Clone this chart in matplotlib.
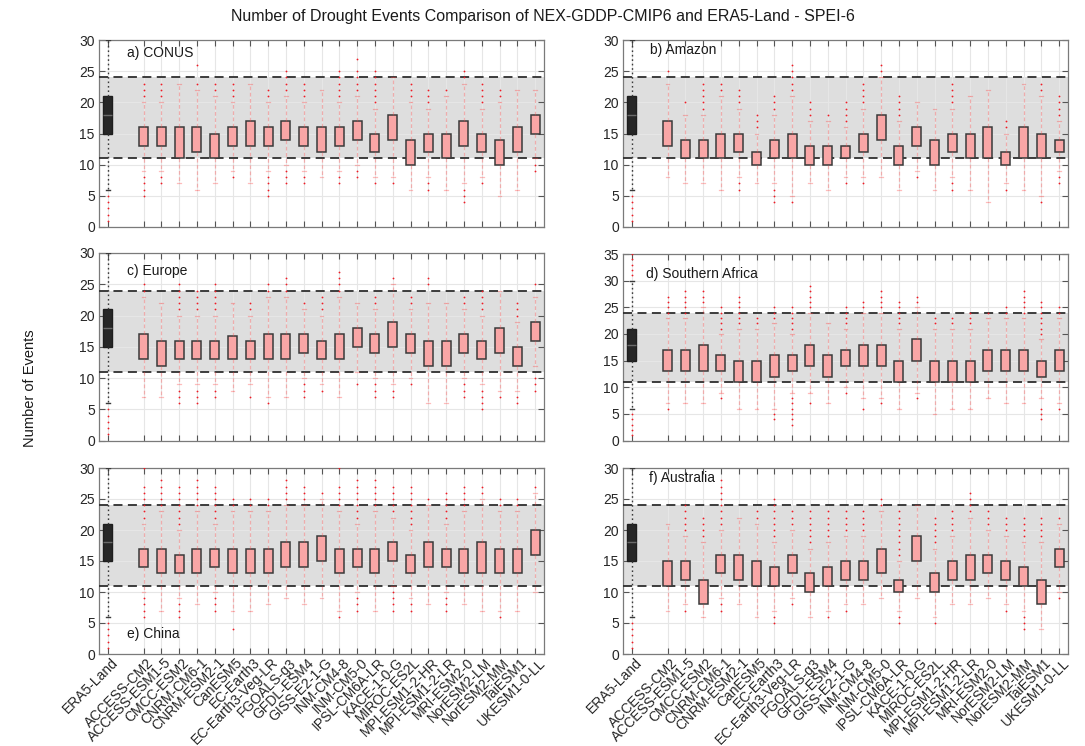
import matplotlib
matplotlib.use("Agg")
import matplotlib.pyplot as plt
from matplotlib.transforms import ScaledTranslation

plt.rcParams['font.family'] = ['Liberation Sans', 'DejaVu Sans']

TITLE = "Number of Drought Events Comparison of NEX-GDDP-CMIP6 and ERA5-Land - SPEI-6"
YLABEL = "Number of Events"

era5_label = "ERA5-Land"
models = ["ACCESS-CM2", "ACCESS-ESM1-5", "CMCC-ESM2", "CNRM-CM6-1", "CNRM-ESM2-1",
          "CanESM5", "EC-Earth3", "EC-Earth3-Veg-LR", "FGOALS-g3", "GFDL-ESM4",
          "GISS-E2-1-G", "INM-CM4-8", "INM-CM5-0", "IPSL-CM6A-LR", "KACE-1-0-G",
          "MIROC-ES2L", "MPI-ESM1-2-HR", "MPI-ESM1-2-LR", "MRI-ESM2-0", "NorESM2-LM",
          "NorESM2-MM", "TaiESM1", "UKESM1-0-LL"]

# ERA5-Land reference distribution (same in every region panel)
era5_q1, era5_med, era5_q3 = 15, 18, 21
era5_lo, era5_hi = 6, 30
era5_out = [31, 32, 33, 34, 35, 5, 4, 3, 2, 1]

# range of the ERA5-Land distribution highlighted as a band
band_lo, band_hi = 11, 24

# ---- a) CONUS
conus_q1 = [13, 13, 11, 12, 11, 13, 13, 13, 14, 13, 12, 13, 14, 12, 14, 10, 12, 11, 13, 12, 10, 12, 15]
conus_q3 = [16, 16, 16, 16, 15, 16, 17, 16, 17, 16, 16, 16, 17, 15, 18, 14, 15, 15, 17, 15, 14, 16, 18]
conus_lo = [9, 9, 7, 6, 7, 9, 7, 9, 10, 9, 8, 9, 10, 8, 8, 6, 8, 6, 7, 8, 5, 6, 11]
conus_hi = [20, 20, 23, 22, 21, 20, 23, 20, 21, 20, 22, 20, 21, 19, 24, 20, 19, 21, 23, 19, 20, 22, 22]
conus_out = [[21, 22, 23, 8, 7, 6, 5], [21, 22, 23, 8, 7], [], [23, 26], [22, 23],
             [21, 22, 23, 8], [], [21, 22, 8, 7, 6, 5], [22, 23, 24, 25, 9, 8, 7],
             [21, 22, 23, 8, 7], [], [21, 22, 23, 24, 25, 8, 7], [22, 23, 24, 25, 27, 9, 8],
             [20, 21, 22, 23, 24, 25, 7], [7], [21, 22, 23], [20, 21, 22, 7, 6], [22],
             [24, 25, 6, 5, 4], [20, 21, 22, 23, 7], [21, 22], [], [10, 9]]

# ---- b) Amazon
amazon_q1 = [13, 11, 11, 11, 12, 10, 11, 11, 10, 10, 11, 12, 14, 10, 13, 10, 12, 11, 11, 10, 11, 11, 12]
amazon_q3 = [17, 14, 14, 15, 15, 12, 14, 15, 13, 13, 13, 15, 18, 13, 16, 14, 15, 15, 16, 12, 16, 15, 14]
amazon_lo = [8, 7, 7, 6, 8, 7, 7, 5, 7, 6, 8, 8, 8, 6, 9, 6, 8, 6, 4, 7, 6, 5, 9]
amazon_hi = [23, 18, 18, 21, 19, 15, 18, 21, 17, 17, 16, 19, 24, 17, 20, 19, 19, 21, 22, 15, 23, 21, 17]
amazon_out = [[25], [20], [19, 20, 21, 22, 23], [22, 23], [20, 21, 22, 7, 6], [16, 17, 18],
              [19, 20, 21, 6, 5, 4], [22, 23, 24, 25, 26, 4], [18, 19, 20], [18],
              [17, 18, 19, 20, 7], [20, 21, 22, 23, 7], [25, 26], [18, 19, 20, 21], [8], [],
              [20, 21, 22, 23, 7, 6], [], [], [16, 17, 6], [], [22, 23, 4],
              [18, 19, 20, 21, 8, 7]]

# ---- c) Europe
europe_q1 = [13, 12, 13, 13, 13, 13, 13, 13, 13, 14, 13, 13, 15, 14, 15, 14, 12, 12, 14, 13, 14, 12, 16]
europe_q3 = [17, 16, 16, 16, 16, 16.8, 16, 17, 17, 17, 16, 17, 18, 17, 19, 17, 16, 16, 17, 16, 18, 15, 19]
europe_lo = [7, 7, 9, 9, 9, 8, 9, 7, 7, 10, 9, 7, 11, 10, 9, 10, 6, 6, 10, 9, 8, 8, 12]
europe_hi = [23, 22, 20, 20, 20, 22, 20, 23, 23, 21, 20, 23, 22, 21, 25, 21, 22, 22, 21, 20, 24, 19, 23]
europe_out = [[24, 25], [], [21, 22, 23, 24, 25, 8, 7, 6], [21, 22, 23, 24, 8, 7, 6],
              [21, 22, 23, 24, 25, 8, 7], [], [21, 22, 7], [24, 25, 6], [24, 25, 26],
              [22, 9, 8, 7], [21, 22, 23, 8], [24, 25, 26, 27], [9], [22, 23, 9, 8, 7],
              [26, 8, 7], [22, 23, 9], [25, 26], [], [22, 23, 9, 8, 7],
              [21, 22, 23, 24, 8, 7, 6, 5], [7], [20, 21, 22, 7, 6], [25, 10, 9, 8]]

# ---- d) Southern Africa
safrica_q1 = [13, 13, 13, 13, 11, 11, 12, 13, 14, 12, 14, 14, 14, 11, 15, 11, 11, 11, 13, 13, 13, 12, 13]
safrica_q3 = [17, 17, 18, 16, 15, 15, 16, 16, 18, 16, 17, 18, 18, 15, 19, 15, 15, 15, 17, 17, 17, 15, 17]
safrica_lo = [7, 7, 7, 9, 6, 6, 6, 9, 9, 7, 10, 8, 8, 6, 9, 5, 6, 6, 8, 7, 7, 8, 7]
safrica_hi = [23, 23, 25, 20, 21, 21, 22, 20, 24, 22, 21, 24, 24, 21, 25, 21, 21, 21, 23, 23, 23, 19, 23]
safrica_out = [[24, 25, 26, 27, 6], [24, 25, 26, 27, 28], [26, 27, 28], [21, 22, 23, 24, 25, 8],
               [22, 23, 24, 25, 26, 27], [22, 23], [23, 24, 25, 5, 4],
               [21, 22, 23, 24, 25, 8, 7, 6, 5, 4, 3], [25, 26, 27, 28, 29, 7], [],
               [22, 23, 24, 25, 9], [25, 26, 6], [25, 26, 27, 28, 7], [22, 23, 24, 25, 26],
               [26, 27, 8], [22, 23], [22, 23], [22, 23, 24], [24], [24, 25],
               [24, 25, 26, 27, 28], [20, 21, 22, 23, 24, 25, 26, 6, 5, 4], [24, 25, 6]]

# ---- e) China
china_q1 = [14, 13, 13, 13, 14, 13, 13, 13, 14, 14, 15, 13, 14, 13, 15, 13, 14, 14, 13, 13, 13, 13, 16]
china_q3 = [17, 17, 16, 17, 17, 17, 17, 17, 18, 18, 19, 17, 17, 17, 18, 16, 18, 17, 17, 18, 17, 17, 20]
china_lo = [10, 7, 9, 8, 10, 7, 7, 8, 9, 8, 9, 7, 10, 7, 11, 9, 8, 10, 8, 7, 7, 7, 10]
china_hi = [21, 23, 20, 23, 21, 23, 23, 23, 24, 24, 25, 23, 21, 23, 22, 20, 24, 21, 23, 25, 23, 23, 26]
china_out = [[22, 23, 24, 25, 26, 27, 30, 9, 8, 7, 6], [24, 25, 26, 27, 28],
             [21, 22, 23, 24, 25, 26, 27, 8, 7, 6], [24, 25, 26, 27, 28],
             [22, 23, 24, 25, 26, 27, 9, 8, 7], [24, 25, 4], [24, 25], [24, 25],
             [25, 26, 27, 28], [25, 26, 27], [26], [24, 25, 26, 27, 30, 6],
             [22, 23, 24, 25, 26, 27, 28, 9, 8, 7], [24, 25, 26, 27, 28],
             [23, 24, 25, 26, 27, 10, 9, 8, 7], [21, 22, 23, 24, 25, 26, 27, 8, 7], [25],
             [22, 23, 24, 25, 26, 9, 8, 7], [24, 25, 26, 27], [26, 27], [24, 25, 6],
             [24, 25], [27]]

# ---- f) Australia
austr_q1 = [11, 12, 8, 13, 12, 11, 11, 13, 10, 11, 12, 12, 13, 10, 15, 10, 12, 12, 13, 12, 11, 8, 14]
austr_q3 = [15, 15, 12, 16, 16, 15, 14, 16, 13, 14, 15, 15, 17, 12, 19, 13, 15, 16, 16, 15, 14, 12, 17]
austr_lo = [7, 8, 6, 9, 8, 6, 7, 9, 6, 7, 8, 8, 9, 7, 9, 6, 8, 8, 9, 8, 7, 4, 10]
austr_hi = [21, 19, 18, 20, 22, 21, 18, 20, 17, 18, 19, 19, 23, 15, 24, 17, 19, 22, 20, 19, 18, 18, 21]
austr_out = [[], [20, 21, 22, 23, 24, 7], [19, 20, 21, 22],
             [21, 22, 23, 24, 25, 26, 27, 28, 8, 7], [], [22, 23],
             [19, 20, 21, 22, 23, 24, 25, 6, 5], [21, 22, 23, 8], [18, 19, 20, 21, 22, 23],
             [19, 20, 21, 22, 23, 6], [20, 21, 22, 23, 7], [20, 21, 22, 23], [24, 25],
             [16, 17, 18, 19, 20, 21, 22, 23, 6, 5], [], [18, 19, 20, 21, 22, 5],
             [20, 21, 22, 23], [23, 24, 25, 26], [21, 22, 23], [20, 21, 22, 7],
             [19, 20, 21, 22, 6, 5, 4], [19, 20, 21, 22], [22, 9]]

panels = [
    ("a) CONUS", conus_q1, conus_q3, conus_lo, conus_hi, conus_out, 30),
    ("b) Amazon", amazon_q1, amazon_q3, amazon_lo, amazon_hi, amazon_out, 30),
    ("c) Europe", europe_q1, europe_q3, europe_lo, europe_hi, europe_out, 30),
    ("d) Southern Africa", safrica_q1, safrica_q3, safrica_lo, safrica_hi, safrica_out, 35),
    ("e) China", china_q1, china_q3, china_lo, china_hi, china_out, 30),
    ("f) Australia", austr_q1, austr_q3, austr_lo, austr_hi, austr_out, 30),
]

# layout in figure pixels (left, top, right, bottom)
W, H = 1085, 746
boxes_px = [(99, 40, 544, 227), (623, 40, 1068, 227),
            (99, 253, 544, 440.5), (623, 254, 1068, 440.5),
            (99, 468, 544, 654), (623, 468, 1068, 654)]
label_pos = [(0.064, 0.93), (0.06, 0.945), (0.062, 0.905),
             (0.052, 0.895), (0.064, 0.11), (0.059, 0.945)]

PINK = "#F9A6A6"
EDGE = "#3a3a3a"
SPINE = "#7a7a7a"

fig = plt.figure(figsize=(W / 100, H / 100), dpi=100)
# rotated category labels hang just below and right of their tick
label_shift = ScaledTranslation(0.08, -0.065, fig.dpi_scale_trans)

era5_pos = 1
model_pos = list(range(3, 3 + len(models)))
tick_pos = [era5_pos] + model_pos
tick_names = [era5_label] + models

for i, (name, q1, q3, lo, hi, out, ymax) in enumerate(panels):
    l, t, r, b = boxes_px[i]
    ax = fig.add_axes([l / W, 1 - b / H, (r - l) / W, (b - t) / H])

    ax.axhspan(band_lo, band_hi, color="#dedede", lw=0, zorder=0.2)
    for yv in (band_lo, band_hi):
        ax.axhline(yv, color="#2e2e2e", lw=1.3, ls=(0, (5, 3)), zorder=2.6)

    flier = dict(marker=".", markersize=2.6, markerfacecolor="#ee1c25",
                 markeredgecolor="none", linestyle="none")

    era5_stats = [dict(q1=era5_q1, med=era5_med, q3=era5_q3,
                       whislo=era5_lo, whishi=era5_hi, fliers=era5_out)]
    ax.bxp(era5_stats, positions=[era5_pos], widths=0.5, patch_artist=True,
           boxprops=dict(facecolor="#272727", edgecolor="#1e1e1e", lw=1.0),
           medianprops=dict(color="#6a6a6a", lw=1.0),
           whiskerprops=dict(color="#3a3a3a", ls=(0, (1.2, 2)), lw=1.0),
           capprops=dict(color="#3a3a3a", lw=1.0), capwidths=0.18,
           flierprops=flier, zorder=3)

    stats = [dict(q1=a, med=a, q3=c, whislo=d, whishi=e, fliers=f)
             for a, c, d, e, f in zip(q1, q3, lo, hi, out)]
    ax.bxp(stats, positions=model_pos, widths=0.5, patch_artist=True,
           boxprops=dict(facecolor=PINK, edgecolor=EDGE, lw=1.1),
           medianprops=dict(lw=0),
           whiskerprops=dict(color=(1, 0.25, 0.25, 0.35), ls=(0, (3, 2)), lw=0.9),
           capprops=dict(color=(1, 0.25, 0.25, 0.35), lw=0.9), capwidths=0.22,
           flierprops=flier, zorder=3)

    ax.set_xlim(0.5, 25.5)
    ax.set_ylim(0, ymax)
    ax.set_yticks(range(0, ymax + 1, 5))
    ax.set_xticks(tick_pos)
    ax.set_xticklabels([])
    if i >= 4:
        trans = ax.get_xaxis_transform() + label_shift
        for xp, lab in zip(tick_pos, tick_names):
            ax.text(xp, 0, lab, transform=trans, rotation=45, ha="right",
                    va="center", rotation_mode="anchor", fontsize=10,
                    color="#262626", clip_on=False)

    ax.grid(True, color="#e6e6e6", lw=0.8)
    ax.set_axisbelow(True)
    ax.tick_params(direction="in", length=4, width=0.8, top=True, right=True,
                   color="#555555", labelsize=10, labelcolor="#262626", pad=3)
    for sp in ax.spines.values():
        sp.set_color(SPINE)
        sp.set_linewidth(0.9)

    ax.text(label_pos[i][0], label_pos[i][1], name, transform=ax.transAxes,
            fontsize=10, color="#1a1a1a", ha="left", va="center", zorder=5)

fig.text(0.5, 1 - 17 / H, TITLE, ha="center", va="center", fontsize=11.5, color="#1a1a1a")
fig.text(30 / W, 1 - 388 / H, YLABEL, rotation=90, ha="center", va="center",
         fontsize=10.5, color="#1a1a1a")

fig.savefig("out.png", dpi=100)
